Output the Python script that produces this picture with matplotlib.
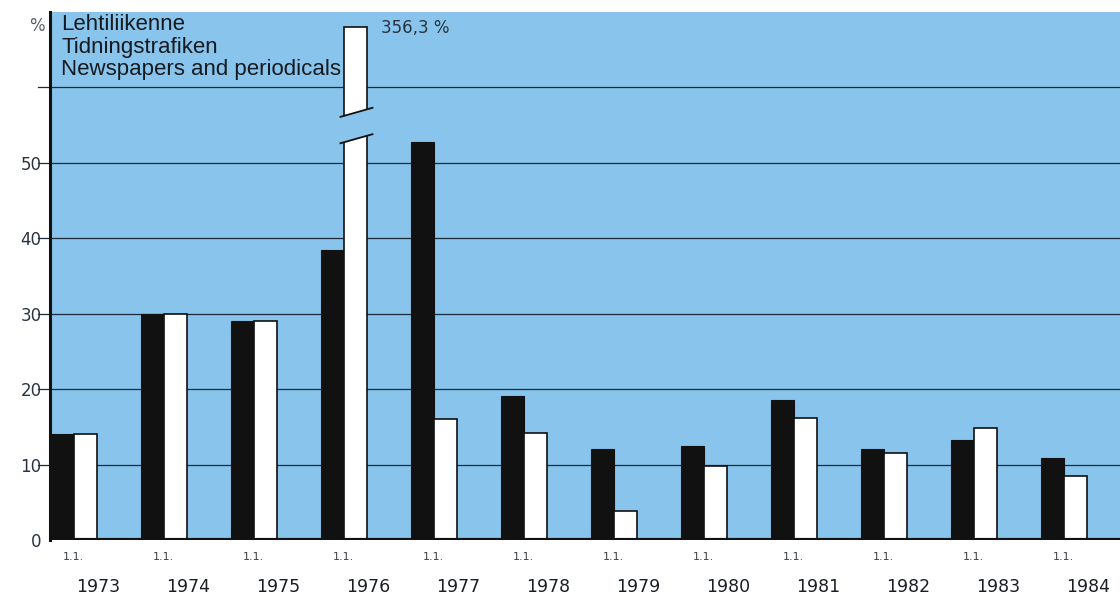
import matplotlib
matplotlib.use("Agg")
import matplotlib.pyplot as plt
from matplotlib.patches import Polygon

years = ["1973", "1974", "1975", "1976", "1977", "1978", "1979", "1980", "1981", "1982", "1983", "1984"]
date_labels = ["1.1."] * 12
black_vals = [14.0, 30.0, 29.0, 38.5, 52.7, 19.1, 12.0, 12.4, 18.6, 12.0, 13.3, 10.9]
white_vals = [14.0, 30.0, 29.0, 356.3, 16.1, 14.2, 3.9, 9.8, 16.2, 11.6, 14.9, 8.5]
yticks = [0, 10, 20, 30, 40, 50]
gridlines = [10, 20, 30, 40, 50, 60]
legend_lines = ["Lehtiliikenne", "Tidningstrafiken", "Newspapers and periodicals"]
big_label = "356,3 %"

CAP = 68.0
BLUE = "#88c4eb"
GRID = "#1d2b3a"

fig = plt.figure(figsize=(11.2, 5.96), dpi=100)
ax = fig.add_axes([50 / 1120, 56 / 596, 1070 / 1120, 528 / 596])
ax.set_facecolor(BLUE)
ax.set_xlim(-0.267, 11.62)
ax.set_ylim(0, 70)

w = 0.256
xs = list(range(len(years)))
shown_white = [min(v, CAP) for v in white_vals]
ax.bar([x - w for x in xs], black_vals, width=w, align="edge", color="#111111",
       edgecolor="#111111", linewidth=0.8, zorder=3)
ax.bar(xs, shown_white, width=w, align="edge", color="white",
       edgecolor="#111111", linewidth=1.2, zorder=3)

# break marks on the clipped bar
for i, v in enumerate(white_vals):
    if v > CAP:
        x0, x1 = i - 0.04, i + w + 0.06
        poly = Polygon([(x0, 52.5), (x1, 53.8), (x1, 57.3), (x0, 56.0)],
                       closed=True, facecolor=BLUE, edgecolor="none", zorder=4)
        ax.add_patch(poly)
        ax.plot([x0, x1], [56.1, 57.3], color="#111111", lw=1.3, zorder=5)
        ax.plot([x0, x1], [52.6, 53.8], color="#111111", lw=1.3, zorder=5)
        ax.text(i + 0.41, CAP - 0.1, big_label, fontsize=12, color="#2a3340",
                ha="left", va="center", family="DejaVu Sans")

for g in gridlines:
    ax.axhline(g, color=GRID, lw=0.9, zorder=1)
    ax.plot([-0.40, -0.267], [g, g], color=GRID, lw=0.9, clip_on=False, zorder=1)

ax.axhline(0, color="#111111", lw=3, zorder=6)
for s in ax.spines.values():
    s.set_visible(False)
ax.plot([-0.267, -0.267], [0, 70], color="#111111", lw=2.2, clip_on=False, zorder=6)

ax.set_xticks([])
ax.set_yticks(yticks)
ax.set_yticklabels([str(t) for t in yticks], fontsize=12, color="#2a3340")
ax.tick_params(axis="y", length=0, pad=6)
ax.text(-0.33, 68.2, "%", transform=ax.transData, fontsize=12, color="#555f6a",
        ha="right", va="center")

for i, (d, y) in enumerate(zip(date_labels, years)):
    ax.text(i - 0.01, -2.3, d, fontsize=8, color="#3a4048", ha="center", va="center",
            clip_on=False)
    ax.text(i + 0.27, -6.2, y, fontsize=12.5, color="#1a1f25", ha="center", va="center",
            clip_on=False)

ax.text(-0.14, 69.7, "\n".join(legend_lines), fontsize=16, family="Liberation Sans",
        color="#151a20", ha="left", va="top", linespacing=1.1, zorder=7)

fig.savefig("out.png", dpi=100, facecolor="white")
